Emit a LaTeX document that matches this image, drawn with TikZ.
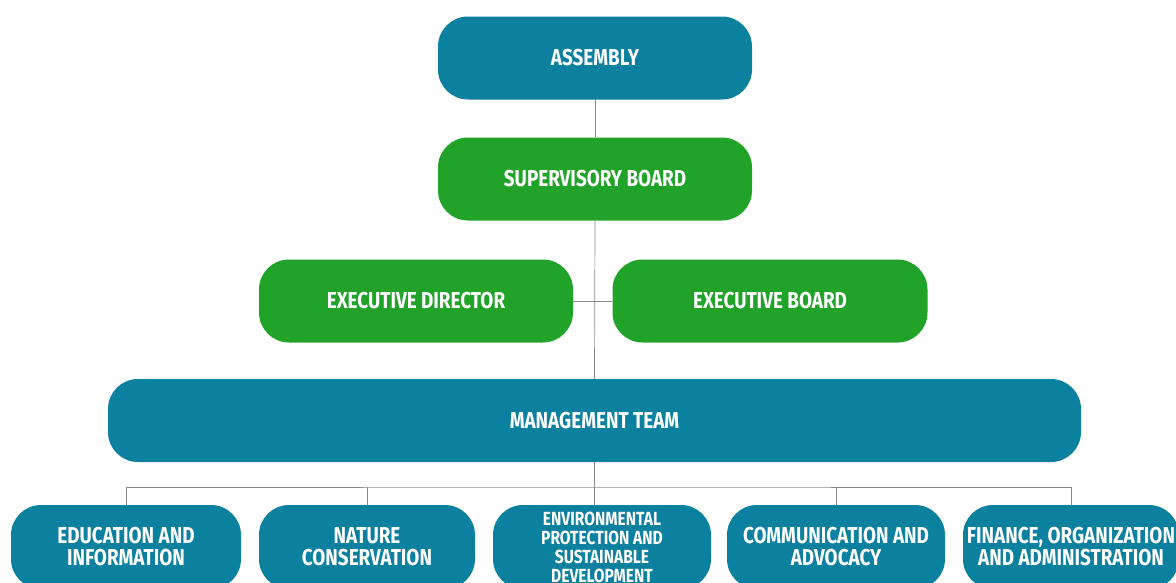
\documentclass[tikz,border=0pt]{standalone}
\usepackage{fontspec}
\newfontfamily\labfont[FakeStretch=0.82]{Fira Sans}
\definecolor{tealbox}{HTML}{0B809F}
\definecolor{greenbox}{HTML}{21A32A}
\definecolor{linegray}{HTML}{8A8A8A}
\tikzset{
  orgbox/.style={rounded corners=30pt, minimum height=83pt, text=white, align=center, inner sep=0pt, font=\labfont\bfseries\fontsize{23}{22}\selectfont},
  tealnode/.style={orgbox, fill=tealbox},
  greennode/.style={orgbox, fill=greenbox},
  link/.style={draw=linegray, line width=0.7pt}
}
\begin{document}
\begin{tikzpicture}[x=1pt,y=-1pt]
\clip (0,0) rectangle (1176,582);
\fill[white] (0,0) rectangle (1176,582);
\node[tealnode, minimum width=314pt] (asm) at (595,58) {ASSEMBLY};
\node[greennode, minimum width=314pt] (sup) at (595,179) {SUPERVISORY BOARD};
\node[greennode, minimum width=314pt] (ed) at (416,301) {EXECUTIVE DIRECTOR};
\node[greennode, minimum width=315pt] (eb) at (770,301) {EXECUTIVE BOARD};
\node[tealnode, minimum width=973pt] (mgmt) at (594.5,420.5) {MANAGEMENT TEAM};
\node[tealnode, minimum width=230pt, minimum height=84pt] (edu) at (126,547) {EDUCATION AND\\INFORMATION};
\node[tealnode, minimum width=216pt, minimum height=84pt] (nat) at (367,547) {NATURE\\CONSERVATION};
\node[tealnode, minimum width=218pt, minimum height=84pt, font=\labfont\bfseries\fontsize{19}{19}\selectfont] (env) at (602,547) {ENVIRONMENTAL\\PROTECTION AND\\SUSTAINABLE\\DEVELOPMENT};
\node[tealnode, minimum width=218pt, minimum height=84pt] (com) at (836,547) {COMMUNICATION AND\\ADVOCACY};
\node[tealnode, minimum width=216pt, minimum height=84pt] (fin) at (1071,547) {FINANCE, ORGANIZATION\\AND ADMINISTRATION};
\coordinate (bus) at (595,487);
\draw[link] (asm.south) -- (sup.north);
\draw[link] (sup.south) -- (mgmt.north);
\draw[link] (ed.east) -- (eb.west);
\draw[link] (mgmt.south) -- (mgmt.south |- env.north);
\draw[link] (edu.north) |- (bus) -| (fin.north);
\draw[link] (nat.north) -- (nat.north |- bus);
\draw[link] (com.north) -- (com.north |- bus);
\end{tikzpicture}
\end{document}
